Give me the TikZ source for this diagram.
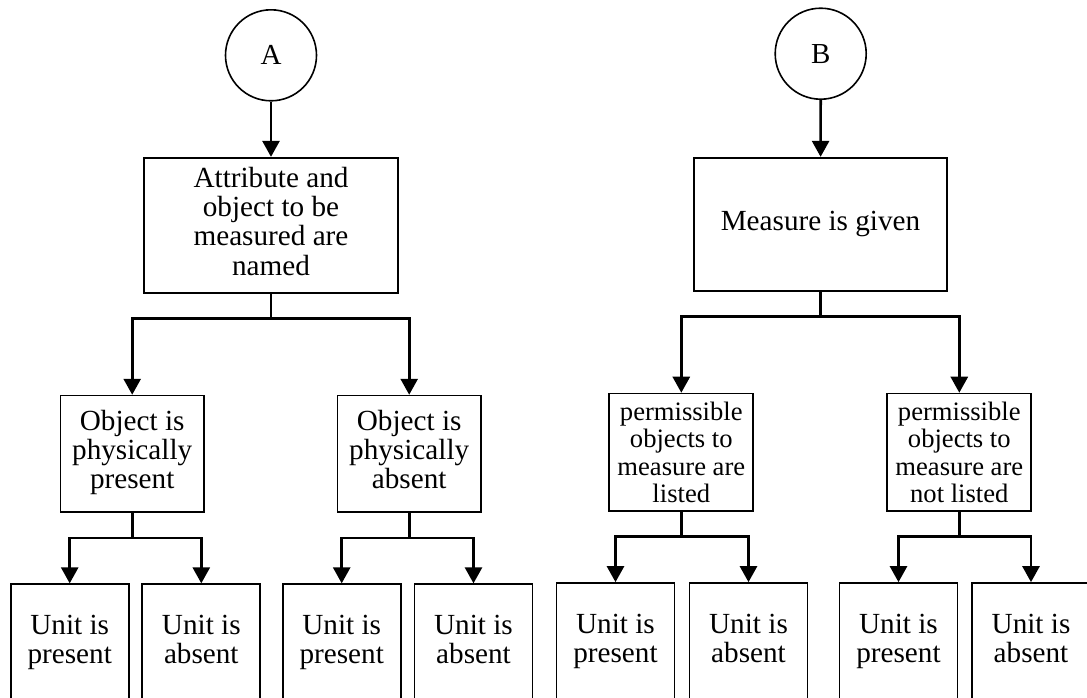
\documentclass[tikz,border=0pt]{standalone}
\usepackage{fontspec}
\setmainfont{Liberation Serif}
\usepackage{tikz}
\usetikzlibrary{arrows.meta}
\tikzset{
  circ/.style={circle, draw, line width=0.8pt, minimum size=45.5pt, inner sep=0pt, font=\fontsize{14.5}{14.5}\selectfont},
  box/.style ={rectangle, draw, line width=0.85pt, align=center, inner sep=0pt},
  blk/.style ={box, font=\fontsize{14.6}{14.6}\selectfont,
               execute at begin node=\strut, execute at end node=\strut},
  sml/.style ={box, font=\fontsize{13.3}{13.7}\selectfont, execute at begin node=\strut, text height=54.5pt},
  unit/.style={blk, minimum width=59pt, minimum height=59.3pt},
  fl/.style  ={line width=1.35pt, -{Triangle[length=8pt, width=8.5pt]}},
  ln/.style  ={line width=1.35pt},
}
\begin{document}
\begin{tikzpicture}[x=0.5pt, y=-0.5pt]
  \useasboundingbox (0,0) rectangle (1087,697);
  \clip (0,0) rectangle (1087,697);
  % left tree
  \node[circ] (nA) at (271,55.3) {A};
  \node[blk, minimum width=127pt, minimum height=67.8pt] (a1) at (271,225.5)
    {Attribute and\\object to be\\measured are\\named};
  \node[blk, minimum width=71.8pt, minimum height=58.2pt] (ap) at (132.2,453.8)
    {Object is\\physically\\present};
  \node[blk, minimum width=71.8pt, minimum height=58.2pt] (aa) at (409.2,453.8)
    {Object is\\physically\\absent};
  \node[unit] (app) at (69.7,643.5)  {Unit is\\present};
  \node[unit] (apa) at (201.3,643.5) {Unit is\\absent};
  \node[unit] (aap) at (341.7,643.5) {Unit is\\present};
  \node[unit] (aaa) at (473.5,643.5) {Unit is\\absent};
  \coordinate (ja)  at (271,318.3);
  \coordinate (jap) at (132.2,538);
  \coordinate (jaa) at (409.2,538);
  \draw[fl] (nA) -- (a1);
  \draw[ln] (a1) -- (ja);
  \draw[fl] (ja) -| (ap);
  \draw[fl] (ja) -| (aa);
  \draw[ln] (ap) -- (jap);
  \draw[fl] (jap) -| (app);
  \draw[fl] (jap) -| (apa);
  \draw[ln] (aa) -- (jaa);
  \draw[fl] (jaa) -| (aap);
  \draw[fl] (jaa) -| (aaa);
  % right tree
  \node[circ] (nB) at (820.7,53.7) {B};
  \node[blk, minimum width=126.8pt, minimum height=66.5pt] (b1) at (820.5,224.2)
    {Measure is given};
  \node[sml, minimum width=72pt, minimum height=58.2pt] (bl) at (681.3,452.2)
    {permissible\\objects to\\measure are\\listed};
  \node[sml, minimum width=72pt, minimum height=58.2pt] (bn) at (959.3,452.2)
    {permissible\\objects to\\measure are\\not listed};
  \node[unit] (blp) at (615.5,642.3) {Unit is\\present};
  \node[unit] (bla) at (748.5,642.3) {Unit is\\absent};
  \node[unit] (bnp) at (898.5,642.3) {Unit is\\present};
  \node[unit] (bna) at (1031,642.3)  {Unit is\\absent};
  \coordinate (jb)  at (820.5,316.7);
  \coordinate (jbl) at (681.3,536.3);
  \coordinate (jbn) at (959.3,536.3);
  \draw[fl] (nB) -- (b1);
  \draw[ln] (b1) -- (jb);
  \draw[fl] (jb) -| (bl);
  \draw[fl] (jb) -| (bn);
  \draw[ln] (bl) -- (jbl);
  \draw[fl] (jbl) -| (blp);
  \draw[fl] (jbl) -| (bla);
  \draw[ln] (bn) -- (jbn);
  \draw[fl] (jbn) -| (bnp);
  \draw[fl] (jbn) -| (bna);
\end{tikzpicture}
\end{document}
